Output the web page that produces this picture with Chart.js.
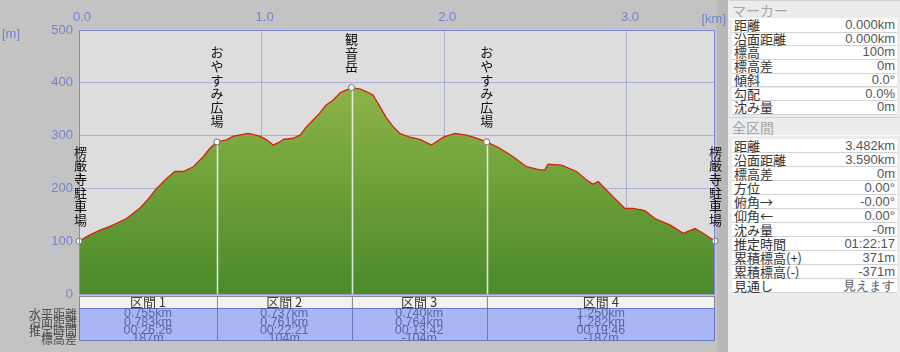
<!DOCTYPE html>
<html lang="ja">
<head>
<meta charset="UTF-8">
<title>断面図</title>
<style>
  body { margin:0; width:900px; height:352px; overflow:hidden; background:#c3c3c3; position:relative;
         font-family:"Noto Sans CJK JP", sans-serif; }
  #chart { position:absolute; left:0; top:0; }
  #panel { position:absolute; left:728px; top:0; width:172px; height:352px; background:#ececec; }
  .hdr { position:absolute; left:1px; width:171px; height:19px; line-height:18px; font-size:14px; color:#a6a6a6;
         padding-left:3px; box-sizing:border-box; border-bottom:1px solid #fbfbfb; border-top:1px solid #d4d4d4; }
  .row { position:absolute; left:4px; width:165px; background:#fff; border-bottom:1px solid #d2d2d2;
         box-sizing:border-box; color:#333; font-size:13px; }
  .row .l { position:absolute; left:2px; top:0; }
  .row .v { position:absolute; right:2px; top:0; font-family:"Liberation Sans", sans-serif; font-size:13px; color:#555; }
</style>
</head>
<body>
<canvas id="chart" width="728" height="352"></canvas>
<div id="panel"></div>

<script src="https://cdn.jsdelivr.net/npm/chart.js"></script>
<script>
// 断面データ (水平距離 km / 標高 m)
const distKm = [0.000, 0.060, 0.115, 0.170, 0.206, 0.260, 0.297, 0.334, 0.370, 0.425,
                0.480, 0.525, 0.571, 0.626, 0.680, 0.717, 0.755, 0.808, 0.845, 0.927,
                0.990, 1.027, 1.063, 1.100, 1.118, 1.173, 1.210, 1.246, 1.283, 1.319,
                1.350, 1.390, 1.430, 1.492, 1.540, 1.575, 1.610, 1.647, 1.684, 1.720,
                1.757, 1.810, 1.866, 1.930, 1.995, 2.058, 2.122, 2.176, 2.232, 2.304,
                2.377, 2.450, 2.523, 2.550, 2.569, 2.642, 2.724, 2.779, 2.815, 2.843,
                2.870, 2.925, 2.989, 3.034, 3.098, 3.153, 3.235, 3.308, 3.372, 3.417, 3.482];
const elevM  = [100, 112, 121, 128, 134, 143, 153, 163, 176, 200,
                219, 232, 232, 241, 260, 276, 288, 292, 299, 304,
                299, 292, 282, 288, 293, 295, 301, 317, 330, 343,
                357, 367, 381, 391, 388, 383, 377, 355, 333, 317,
                304, 297, 293, 282, 297, 304, 301, 295, 288, 276,
                260, 241, 235, 235, 246, 244, 232, 216, 208, 213,
                203, 184, 162, 162, 158, 143, 131, 115, 124, 115, 100];

// マーカー
const markerKm    = [0, 0.755, 1.492, 2.232, 3.482];
const markerElev  = [100, 288, 391, 288, 100];
const markerNames = ['楞厳寺駐車場', 'おやすみ広場', '観音岳', 'おやすみ広場', '楞厳寺駐車場'];

const xTicks = [0, 1, 2, 3];
const yTicks = [0, 100, 200, 300, 400, 500];

// 区間表
const sectionNames = ['区間 1', '区間 2', '区間 3', '区間 4'];
const secDist = ['0.755km', '0.737km', '0.740km', '1.250km'];
const secSurf = ['0.783km', '0.761km', '0.764km', '1.282km'];
const secTime = ['00:26:26', '00:22:21', '00:13:42', '00:19:46'];
const secDiff = ['187m', '104m', '-104m', '-187m'];
const bandLabels = ['水平距離', '沿面距離', '推定時間', '標高差'];

// 右パネル
const markerRowLabels = ['距離', '沿面距離', '標高', '標高差', '傾斜', '勾配', '沈み量'];
const markerRowValues = ['0.000km', '0.000km', '100m', '0m', '0.0°', '0.0%', '0m'];
const totalRowLabels = ['距離', '沿面距離', '標高差', '方位', '俯角→', '仰角←', '沈み量',
                        '推定時間', '累積標高(+)', '累積標高(-)', '見通し'];
const totalRowValues = ['3.482km', '3.590km', '0m', '0.00°', '-0.00°', '0.00°', '-0m',
                        '01:22:17', '371m', '-371m', '見えます'];

// パネル作成
const panel = document.getElementById('panel');
function addHeader(text, top) {
    const d = document.createElement('div');
    d.className = 'hdr';
    d.style.top = top + 'px';
    d.textContent = text;
    panel.appendChild(d);
}
function addRows(labels, values, top, pitch) {
    labels.forEach((l, i) => {
        const r = document.createElement('div');
        r.className = 'row';
        r.style.top = (top + i * pitch) + 'px';
        r.style.height = pitch + 'px';
        r.style.lineHeight = (pitch - 1) + 'px';
        r.innerHTML = '<span class="l"></span><span class="v"></span>';
        r.children[0].textContent = l;
        r.children[1].textContent = values[i];
        panel.appendChild(r);
    });
}
addHeader('マーカー', 0);
addRows(markerRowLabels, markerRowValues, 19, 13.7);
addHeader('全区間', 117);
addRows(totalRowLabels, totalRowValues, 139, 14);

const profilePlugin = {
    id: 'profile',
    beforeDraw(chart) {
        const { ctx, chartArea: a } = chart;
        ctx.save();
        ctx.fillStyle = '#c3c3c3';
        ctx.fillRect(0, 0, chart.width, chart.height);
        ctx.fillStyle = '#b8b8b8';
        ctx.fillRect(a.right + 2, 0, chart.width - a.right - 2, chart.height);
        ctx.fillStyle = '#dddddd';
        ctx.fillRect(a.left, a.top, a.right - a.left, a.bottom - a.top);
        ctx.restore();
    },
    afterDatasetDraw(chart, args) {
        if (args.index !== 0) return;
        const { ctx, chartArea: a } = chart;
        const xs = chart.scales.x, ys = chart.scales.y;
        ctx.save();
        ctx.strokeStyle = 'rgba(245,245,245,0.85)';
        ctx.lineWidth = 1.6;
        for (let i = 1; i < markerKm.length - 1; i++) {
            const x = Math.round(xs.getPixelForValue(markerKm[i])) + 0.5;
            ctx.beginPath();
            ctx.moveTo(x, ys.getPixelForValue(markerElev[i]));
            ctx.lineTo(x, a.bottom);
            ctx.stroke();
        }
        ctx.restore();
    },
    afterDraw(chart) {
        const { ctx, chartArea: a } = chart;
        const xs = chart.scales.x, ys = chart.scales.y;
        ctx.save();

        // 枠
        ctx.strokeStyle = '#7f88d8';
        ctx.lineWidth = 1;
        ctx.beginPath();
        ctx.moveTo(a.left + 0.5, a.bottom);
        ctx.lineTo(a.left + 0.5, a.top + 0.5);
        ctx.lineTo(a.right - 0.5, a.top + 0.5);
        ctx.lineTo(a.right - 0.5, a.bottom);
        ctx.stroke();

        // 単位
        ctx.fillStyle = '#7684cc';
        ctx.font = '13px "Liberation Sans"';
        ctx.textBaseline = 'middle';
        ctx.textAlign = 'left';
        ctx.fillText('[m]', 2, 34);
        ctx.textAlign = 'right';
        ctx.fillText('[km]', a.right + 11, 19);

        // マーカー名 (縦書き)
        ctx.fillStyle = '#111';
        ctx.font = '13px "Noto Sans CJK JP"';
        ctx.textAlign = 'center';
        markerNames.forEach((name, i) => {
            let x = xs.getPixelForValue(markerKm[i]);
            if (i === 0) x += 1.5;
            if (i === markerNames.length - 1) x += 0.5;
            const yEnd = ys.getPixelForValue(markerElev[i]) - 21;
            const chars = [...name];
            chars.forEach((c, j) => {
                ctx.fillText(c, x, yEnd - (chars.length - 1 - j) * 13.7);
            });
        });

        // 区間表
        const hTop = a.bottom + 2, hBot = hTop + 12, dBot = hBot + 33;
        const lineY = [hBot + 6, hBot + 14.5, hBot + 23, hBot + 31];
        for (let i = 0; i < sectionNames.length; i++) {
            const x0 = xs.getPixelForValue(markerKm[i]);
            const x1 = xs.getPixelForValue(markerKm[i + 1]);
            ctx.fillStyle = '#f2f2f2';
            ctx.fillRect(x0, hTop, x1 - x0, hBot - hTop);
            ctx.fillStyle = '#a8b6f6';
            ctx.fillRect(x0, hBot, x1 - x0, dBot - hBot);
        }
        ctx.strokeStyle = '#8a8a8a';
        ctx.strokeRect(a.left + 0.5, hTop + 0.5, a.right - a.left - 1, hBot - hTop);
        ctx.strokeStyle = '#6c78c0';
        ctx.strokeRect(a.left + 0.5, hBot + 0.5, a.right - a.left - 1, dBot - hBot - 1);
        for (let i = 1; i < sectionNames.length; i++) {
            const x = Math.round(xs.getPixelForValue(markerKm[i])) + 0.5;
            ctx.strokeStyle = '#8a8a8a';
            ctx.beginPath(); ctx.moveTo(x, hTop); ctx.lineTo(x, hBot); ctx.stroke();
            ctx.strokeStyle = '#6c78c0';
            ctx.beginPath(); ctx.moveTo(x, hBot); ctx.lineTo(x, dBot); ctx.stroke();
        }
        ctx.textAlign = 'center';
        ctx.textBaseline = 'middle';
        for (let i = 0; i < sectionNames.length; i++) {
            const cx = (xs.getPixelForValue(markerKm[i]) + xs.getPixelForValue(markerKm[i + 1])) / 2;
            ctx.fillStyle = '#3a3a3a';
            ctx.font = '13px "Noto Sans CJK JP"';
            ctx.fillText(sectionNames[i], cx, hTop + 6.5);
            ctx.save();
            ctx.beginPath();
            ctx.rect(a.left, hBot, a.right - a.left, dBot - hBot);
            ctx.clip();
            ctx.fillStyle = '#5a66a6';
            ctx.font = '12.5px "Liberation Sans"';
            [secDist[i], secSurf[i], secTime[i], secDiff[i]].forEach((t, k) => ctx.fillText(t, cx, lineY[k]));
            ctx.restore();
        }
        ctx.fillStyle = '#505050';
        ctx.font = '12px "Noto Sans CJK JP"';
        ctx.textAlign = 'right';
        bandLabels.forEach((t, k) => ctx.fillText(t, a.left - 2, lineY[k]));

        ctx.restore();
    }
};

const tickFont = { family: 'Liberation Sans', size: 13 };

new Chart(document.getElementById('chart'), {
    type: 'line',
    data: {
        datasets: [{
            data: distKm.map((d, i) => ({ x: d, y: elevM[i] })),
            borderColor: '#d8200c',
            borderWidth: 1.3,
            pointRadius: 0,
            tension: 0,
            fill: 'origin',
            order: 2,
            backgroundColor: (c) => {
                const a = c.chart.chartArea;
                if (!a) return '#6a9a38';
                const g = c.chart.ctx.createLinearGradient(0, a.top, 0, a.bottom);
                g.addColorStop(0, '#a0bf50');
                g.addColorStop(1, '#4a8a2a');
                return g;
            }
        }, {
            data: markerKm.map((d, i) => ({ x: d, y: markerElev[i] })),
            showLine: false,
            pointRadius: 3,
            pointBackgroundColor: '#ffffff',
            pointBorderColor: '#707070',
            pointBorderWidth: 1,
            clip: false,
            order: 1
        }]
    },
    options: {
        responsive: false,
        animation: false,
        layout: { padding: { left: 0, top: 0, right: 13, bottom: 58 } },
        plugins: { legend: { display: false }, tooltip: { enabled: false } },
        scales: {
            x: {
                type: 'linear', position: 'top', min: 0, max: 3.482, z: 1,
                afterFit: (s) => { s.height = 30; },
                afterBuildTicks: (s) => { s.ticks = xTicks.map(v => ({ value: v })); },
                grid: { color: 'rgba(110,120,215,0.45)', drawTicks: false },
                border: { display: false },
                ticks: { padding: 5, labelOffset: 3, color: '#7684cc', font: tickFont,
                         callback: (v) => Number(v).toFixed(1) }
            },
            y: {
                type: 'linear', min: 0, max: 500, z: 1,
                afterFit: (s) => { s.width = 79; },
                afterBuildTicks: (s) => { s.ticks = yTicks.map(v => ({ value: v })); },
                grid: { color: 'rgba(110,120,215,0.45)', drawTicks: false },
                border: { display: false },
                ticks: { padding: 6, color: '#7684cc', font: tickFont }
            }
        }
    },
    plugins: [profilePlugin]
});
</script>
</body>
</html>
